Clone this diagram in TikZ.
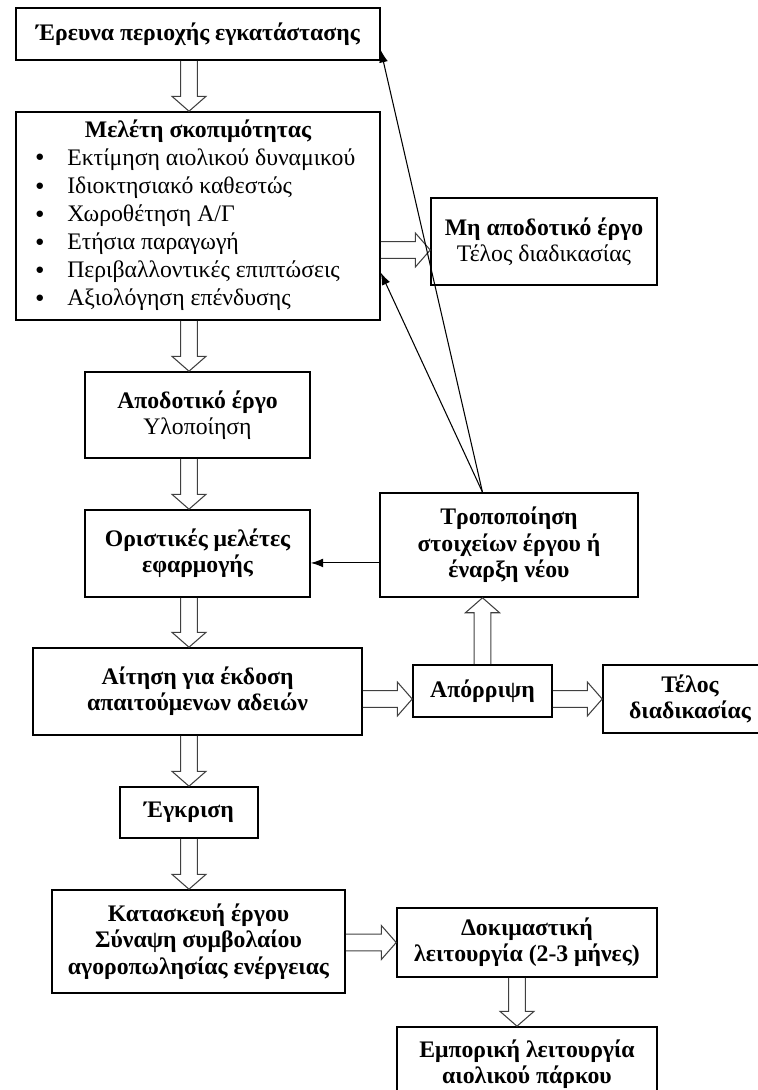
\documentclass[tikz,border=0pt]{standalone}
\usepackage{fontspec}
\setmainfont{Liberation Serif}
\usetikzlibrary{arrows.meta,calc}

% hollow block arrow from #1 to #2
\newcommand\blockarrow[2]{%
  \draw[hollow] let \p1=(#1), \p2=(#2),
    \n1={atan2(\y2-\y1,\x2-\x1)}, \n2={veclen(\x2-\x1,\y2-\y1)-8.5pt} in
    ($(\p1)+(\n1+90:4.8pt)$) -- ++(\n1:\n2) -- ++(\n1+90:4.9pt) -- (\p2)
    -- ($(\p2)+(\n1+180:8.5pt)+(\n1-90:9.7pt)$) -- ++(\n1+90:4.9pt)
    -- ($(\p1)+(\n1-90:4.8pt)$);}
\newcommand\bul{\raisebox{2pt}{\fontsize{8.5}{8}\selectfont ●}}

\begin{document}
\begin{tikzpicture}[x=0.02cm,y=-0.02cm,
  box/.style={draw,line width=0.9pt,align=center,inner sep=3pt,
    font=\fontsize{13.5}{15}\selectfont\bfseries},
  hollow/.style={draw=black!75,line width=0.6pt,line join=miter},
  link/.style={line width=0.6pt,-{Latex[length=7pt,width=5pt]}}]
  \useasboundingbox (0,0) rectangle (758,1090);
  \clip (0,0) rectangle (758,1090);

  % left column
  \node[box,minimum width=7.28cm,minimum height=1.04cm] (erevna) at (198,34) {Έρευνα περιοχής εγκατάστασης};
  \node[box,minimum width=7.28cm,minimum height=4.16cm,font=\fontsize{13.5}{16}\selectfont] (meleti) at (198,216) {%
    \begin{tabular}{@{}c@{\hspace{13pt}}l@{\hspace{3pt}}}
      \multicolumn{2}{@{}c@{}}{\bfseries Μελέτη σκοπιμότητας}\\
      \bul & Εκτίμηση αιολικού δυναμικού\\
      \bul & Ιδιοκτησιακό καθεστώς\\
      \bul & Χωροθέτηση Α/Γ\\
      \bul & Ετήσια παραγωγή\\
      \bul & Περιβαλλοντικές επιπτώσεις\\
      \bul & Αξιολόγηση επένδυσης
    \end{tabular}};
  \node[box,minimum width=4.5cm,minimum height=1.72cm] (apodotiko) at (197.5,415) {Αποδοτικό έργο\\ \mdseries Υλοποίηση};
  \node[box,minimum width=4.5cm,minimum height=1.74cm] (oristikes) at (197.5,553.5) {Οριστικές μελέτες\\ εφαρμογής};
  \node[box,minimum width=6.58cm,minimum height=1.74cm] (aitisi) at (197.5,691.5) {Αίτηση για έκδοση\\ απαιτούμενων αδειών};
  \node[box,minimum width=2.76cm,minimum height=1.02cm] (egkrisi) at (189,812.5) {Έγκριση};
  \node[box,minimum width=5.86cm,minimum height=2.06cm] (kataskevi) at (198.5,941.5) {Κατασκευή έργου\\ Σύναψη συμβολαίου\\ αγοροπωλησίας ενέργειας};

  % right side
  \node[box,minimum width=4.52cm,minimum height=1.74cm] (mi) at (544,241.5) {Μη αποδοτικό έργο\\ \mdseries Τέλος διαδικασίας};
  \node[box,minimum width=5.16cm,minimum height=2.08cm] (tropopoiisi) at (509,545) {Τροποποίηση\\ στοιχείων έργου ή\\ έναρξη νέου};
  \node[box,minimum width=2.78cm,minimum height=1.04cm] (aporripsi) at (482.5,691) {Απόρριψη};
  \node[box,minimum width=3.48cm,minimum height=1.36cm] (telos) at (690,699) {Τέλος\\ διαδικασίας};
  \node[box,minimum width=5.2cm,minimum height=1.38cm] (dokimastiki) at (527,942.5) {Δοκιμαστική\\ λειτουργία (2-3 μήνες)};
  \node[box,minimum width=5.2cm,minimum height=1.48cm] (emporiki) at (527,1064) {Εμπορική λειτουργία\\ αιολικού πάρκου};

  \coordinate (axis) at (189,0);
  \coordinate (axis2) at (517,0);
  \coordinate (r1) at (0,250);

  % main flow
  \blockarrow{erevna.south -| axis}{meleti.north -| axis}
  \blockarrow{meleti.south -| axis}{apodotiko.north -| axis}
  \blockarrow{apodotiko.south -| axis}{oristikes.north -| axis}
  \blockarrow{oristikes.south -| axis}{aitisi.north -| axis}
  \blockarrow{aitisi.south -| axis}{egkrisi.north -| axis}
  \blockarrow{egkrisi.south -| axis}{kataskevi.north -| axis}
  \blockarrow{meleti.east |- r1}{mi.west |- r1}
  \blockarrow{aitisi.east |- telos}{aporripsi.west |- telos}
  \blockarrow{aporripsi.east |- telos}{telos.west}
  \blockarrow{aporripsi.north}{tropopoiisi.south -| aporripsi}
  \blockarrow{kataskevi.east |- dokimastiki}{dokimastiki.west}
  \blockarrow{dokimastiki.south -| axis2}{emporiki.north -| axis2}

  % feedback
  \coordinate (top) at (tropopoiisi.north -| aporripsi);
  \coordinate (back) at ($(tropopoiisi.south west)!0.33!(tropopoiisi.north west)$);
  \draw[link] (top) -- ($(erevna.south east)!0.2!(erevna.north east)$);
  \draw[link] (top) -- ($(meleti.south east)!0.23!(meleti.north east)$);
  \draw[link] (back) -- (oristikes.east |- back);
\end{tikzpicture}
\end{document}
